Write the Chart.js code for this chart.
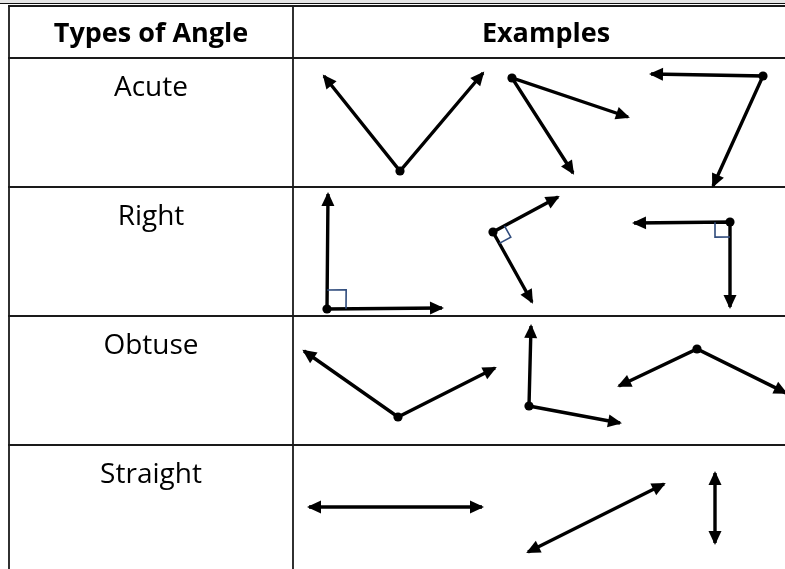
<!DOCTYPE html>
<html lang="en">
<head>
<meta charset="utf-8">
<title>Types of Angle</title>
<script src="https://cdn.jsdelivr.net/npm/chart.js@4.4.1/dist/chart.umd.min.js"></script>
<style>
  html, body { margin: 0; padding: 0; background: #fff; }
  #wrap { width: 785px; height: 569px; }
</style>
</head>
<body>
<div id="wrap"><canvas id="angleChart" width="785" height="569"></canvas></div>
<script>
// table text
const headerLabels = ['Types of Angle', 'Examples'];
const angleTypes = ['Acute', 'Right', 'Obtuse', 'Straight'];

// table rules, in chart units
const columnLines = [9, 293];
const rowLines = [6, 58, 187, 316, 445];

// each example: [end A, vertex, end B] (straight ones: [end A, end B])
const acuteExamples = [
  [[324, 76], [400, 171], [483, 73]],
  [[628, 117], [512, 78], [573, 173]],
  [[651, 74], [763, 76], [713, 186]]
];
const rightExamples = [
  [[328, 194], [327, 309], [442, 308]],
  [[558, 197], [493, 232], [532, 302]],
  [[634, 223], [730, 222], [730, 307]]
];
const rightMarkSizes = [19, 13, 15];
const obtuseExamples = [
  [[304, 351], [398, 417], [495, 368]],
  [[531, 326], [529, 406], [620, 423]],
  [[619, 386], [697, 349], [786, 393]]
];
const straightExamples = [
  [[309, 507], [482, 507]],
  [[528, 552], [664, 484]],
  [[715, 473], [715, 543]]
];

const allExamples = [acuteExamples, rightExamples, obtuseExamples, straightExamples];

const datasets = [];
allExamples.forEach(function (group, g) {
  group.forEach(function (ex, i) {
    datasets.push({
      label: angleTypes[g] + ' ' + (i + 1),
      data: ex.map(function (p) { return { x: p[0], y: p[1] }; }),
      showLine: true,
      borderColor: '#000',
      backgroundColor: '#000',
      borderWidth: 3.4,
      tension: 0,
      // dot only on the vertex
      pointRadius: ex.map(function (p, k) { return (ex.length === 3 && k === 1) ? 4.6 : 0; }),
      pointBorderWidth: 0,
      pointHoverRadius: 0,
      isRight: g === 1,
      rightIndex: i
    });
  });
});

const tablePlugin = {
  id: 'tablePlugin',
  beforeDatasetsDraw(chart) {
    const ctx = chart.ctx;
    const xs = chart.scales.x, ys = chart.scales.y;
    const w = chart.width, h = chart.height;
    ctx.save();
    // window edge at the top
    ctx.fillStyle = '#e6e6e6';
    ctx.fillRect(0, 0, w, 3);
    ctx.fillStyle = '#111';
    ctx.fillRect(0, 3, w, 1);
    ctx.strokeStyle = '#1a1a1a';
    ctx.lineWidth = 1.8;
    rowLines.forEach(function (r) {
      const y = ys.getPixelForValue(r);
      ctx.beginPath();
      ctx.moveTo(xs.getPixelForValue(columnLines[0]) - 1, y);
      ctx.lineTo(w, y);
      ctx.stroke();
    });
    columnLines.forEach(function (c) {
      const x = xs.getPixelForValue(c);
      ctx.beginPath();
      ctx.moveTo(x, ys.getPixelForValue(rowLines[0]));
      ctx.lineTo(x, h);
      ctx.stroke();
    });
    // texts
    ctx.fillStyle = '#000';
    ctx.textAlign = 'center';
    ctx.textBaseline = 'alphabetic';
    const leftMid = (xs.getPixelForValue(columnLines[0]) + xs.getPixelForValue(columnLines[1])) / 2;
    ctx.font = 'bold 27px "Open Sans", sans-serif';
    ctx.fillText(headerLabels[0], leftMid, ys.getPixelForValue(rowLines[0] + 36));
    ctx.fillText(headerLabels[1], xs.getPixelForValue(546), ys.getPixelForValue(rowLines[0] + 36));
    ctx.font = '28px "Open Sans", sans-serif';
    angleTypes.forEach(function (t, i) {
      ctx.fillText(t, leftMid, ys.getPixelForValue(rowLines[i + 1] + 38));
    });
    ctx.restore();
  },
  afterDatasetsDraw(chart) {
    const ctx = chart.ctx;
    ctx.save();
    chart.data.datasets.forEach(function (ds, di) {
      const pts = chart.getDatasetMeta(di).data;
      const n = pts.length;
      ctx.fillStyle = '#000';
      drawHead(ctx, pts[0], pts[1]);
      drawHead(ctx, pts[n - 1], pts[n - 2]);
      if (ds.isRight) {
        const v = pts[1], a = pts[0], b = pts[2];
        const s = rightMarkSizes[ds.rightIndex];
        const da = Math.hypot(a.x - v.x, a.y - v.y), db = Math.hypot(b.x - v.x, b.y - v.y);
        const ua = { x: (a.x - v.x) / da * s, y: (a.y - v.y) / da * s };
        const ub = { x: (b.x - v.x) / db * s, y: (b.y - v.y) / db * s };
        ctx.strokeStyle = '#2f4b7c';
        ctx.lineWidth = 1.6;
        ctx.beginPath();
        ctx.moveTo(v.x + ua.x, v.y + ua.y);
        ctx.lineTo(v.x + ua.x + ub.x, v.y + ua.y + ub.y);
        ctx.lineTo(v.x + ub.x, v.y + ub.y);
        ctx.stroke();
      }
    });
    ctx.restore();
  }
};

function drawHead(ctx, tip, from) {
  const len = 14, half = 6.5;
  const d = Math.hypot(tip.x - from.x, tip.y - from.y);
  const ux = (tip.x - from.x) / d, uy = (tip.y - from.y) / d;
  const tx = tip.x + ux * 2, ty = tip.y + uy * 2;
  const bx = tx - ux * len, by = ty - uy * len;
  ctx.beginPath();
  ctx.moveTo(tx, ty);
  ctx.lineTo(bx - uy * half, by + ux * half);
  ctx.lineTo(bx + uy * half, by - ux * half);
  ctx.closePath();
  ctx.fill();
}

new Chart(document.getElementById('angleChart'), {
  type: 'scatter',
  data: { datasets: datasets },
  options: {
    responsive: false,
    animation: false,
    layout: { padding: 0 },
    plugins: { legend: { display: false }, tooltip: { enabled: false } },
    scales: {
      x: { type: 'linear', min: 0, max: 785, display: false },
      y: { type: 'linear', min: 0, max: 569, reverse: true, display: false }
    }
  },
  plugins: [tablePlugin]
});
</script>
</body>
</html>
